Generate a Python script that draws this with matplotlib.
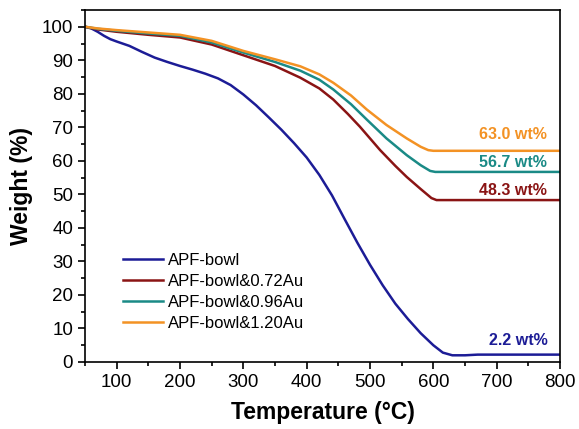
import matplotlib
matplotlib.use("Agg")
import matplotlib.pyplot as plt
import numpy as np
from matplotlib.ticker import MultipleLocator

plt.rcParams['font.family'] = ['Arial', 'Liberation Sans', 'DejaVu Sans']

# temperature points (°C) and weight (%)
t_blue = [50, 60, 70, 80, 90, 100, 120, 140, 160, 180, 200, 220, 240, 260, 280, 300, 320, 340, 360,
          380, 400, 420, 440, 460, 480, 500, 520, 540, 560, 580, 600, 615, 630, 650, 670, 800]
w_blue = [100, 99.5, 98.5, 97.3, 96.3, 95.6, 94.3, 92.5, 90.8, 89.5, 88.3, 87.2, 86, 84.6, 82.6, 79.8, 76.6, 73, 69.3,
          65.3, 61, 55.8, 49.7, 42.6, 35.6, 29.0, 22.9, 17.4, 12.8, 8.6, 5, 2.8, 2.0, 2.0, 2.2, 2.2]

t_red = [50, 70, 100, 150, 200, 250, 300, 350, 390, 420, 442, 465, 484,
         516, 540, 558, 580, 597, 605, 800]
w_red = [100, 99.2, 98.5, 97.6, 96.8, 94.7, 91.5, 88.3, 84.8, 81.6, 78.3, 74.0, 70.2,
         63.2, 58.5, 55.2, 51.6, 48.9, 48.3, 48.3]

t_teal = [50, 70, 100, 150, 200, 250, 300, 350, 390, 420, 442, 470, 495,
          526, 558, 580, 595, 603, 800]
w_teal = [100, 99.4, 98.8, 98, 97.3, 95.3, 92.3, 89.5, 86.9, 84.2, 81.3, 76.9, 72.3,
          66.7, 61.7, 58.7, 57.0, 56.7, 56.7]

t_orange = [50, 70, 100, 150, 200, 250, 300, 350, 390, 420, 442, 470, 495,
            526, 558, 580, 592, 600, 800]
w_orange = [100, 99.5, 99, 98.3, 97.6, 95.8, 92.8, 90.3, 88.2, 85.8, 83.3, 79.5, 75.3,
            70.7, 66.7, 64.2, 63.2, 63.0, 63.0]

series = [
    ("APF-bowl", t_blue, w_blue, "#1c1c96"),
    ("APF-bowl&0.72Au", t_red, w_red, "#8a1414"),
    ("APF-bowl&0.96Au", t_teal, w_teal, "#1a8a86"),
    ("APF-bowl&1.20Au", t_orange, w_orange, "#f39224"),
]

residues = ["63.0 wt%", "56.7 wt%", "48.3 wt%", "2.2 wt%"]
residue_y = [68.0, 59.6, 51.2, 6.3]
residue_colors = ["#f39224", "#1a8a86", "#8a1414", "#1c1c96"]

fig = plt.figure(figsize=(5.79, 4.29), dpi=100)
ax = fig.add_axes([85 / 579, 1 - 362 / 429, 475 / 579, 352 / 429])

for name, t, w, c in series:
    ax.plot(t, w, color=c, lw=1.8, label=name)

for txt, y, c in zip(residues, residue_y, residue_colors):
    ax.text(780, y, txt, color=c, fontsize=11.5, fontweight="bold", ha="right", va="center")

ax.set_xlim(50, 800)
ax.set_ylim(0, 105)
ax.xaxis.set_minor_locator(MultipleLocator(50))
ax.yaxis.set_minor_locator(MultipleLocator(5))
ax.set_xticks(np.arange(100, 801, 100))
ax.set_yticks(np.arange(0, 101, 10))
ax.tick_params(which="both", direction="out", width=1.2, labelsize=13.5, top=False, right=False)
ax.tick_params(which="major", length=5)
ax.tick_params(which="minor", length=3)
for s in ax.spines.values():
    s.set_linewidth(1.2)

ax.set_xlabel("Temperature (°C)", fontsize=16.5, fontweight="bold", labelpad=7)
ax.set_ylabel("Weight (%)", fontsize=16.5, fontweight="bold", labelpad=6)

ax.legend(loc="lower left", bbox_to_anchor=(0.065, 0.07), frameon=False, fontsize=12,
          handlelength=2.4, handletextpad=0.3, labelspacing=0.35, borderaxespad=0)

fig.savefig("out.png", dpi=100)
